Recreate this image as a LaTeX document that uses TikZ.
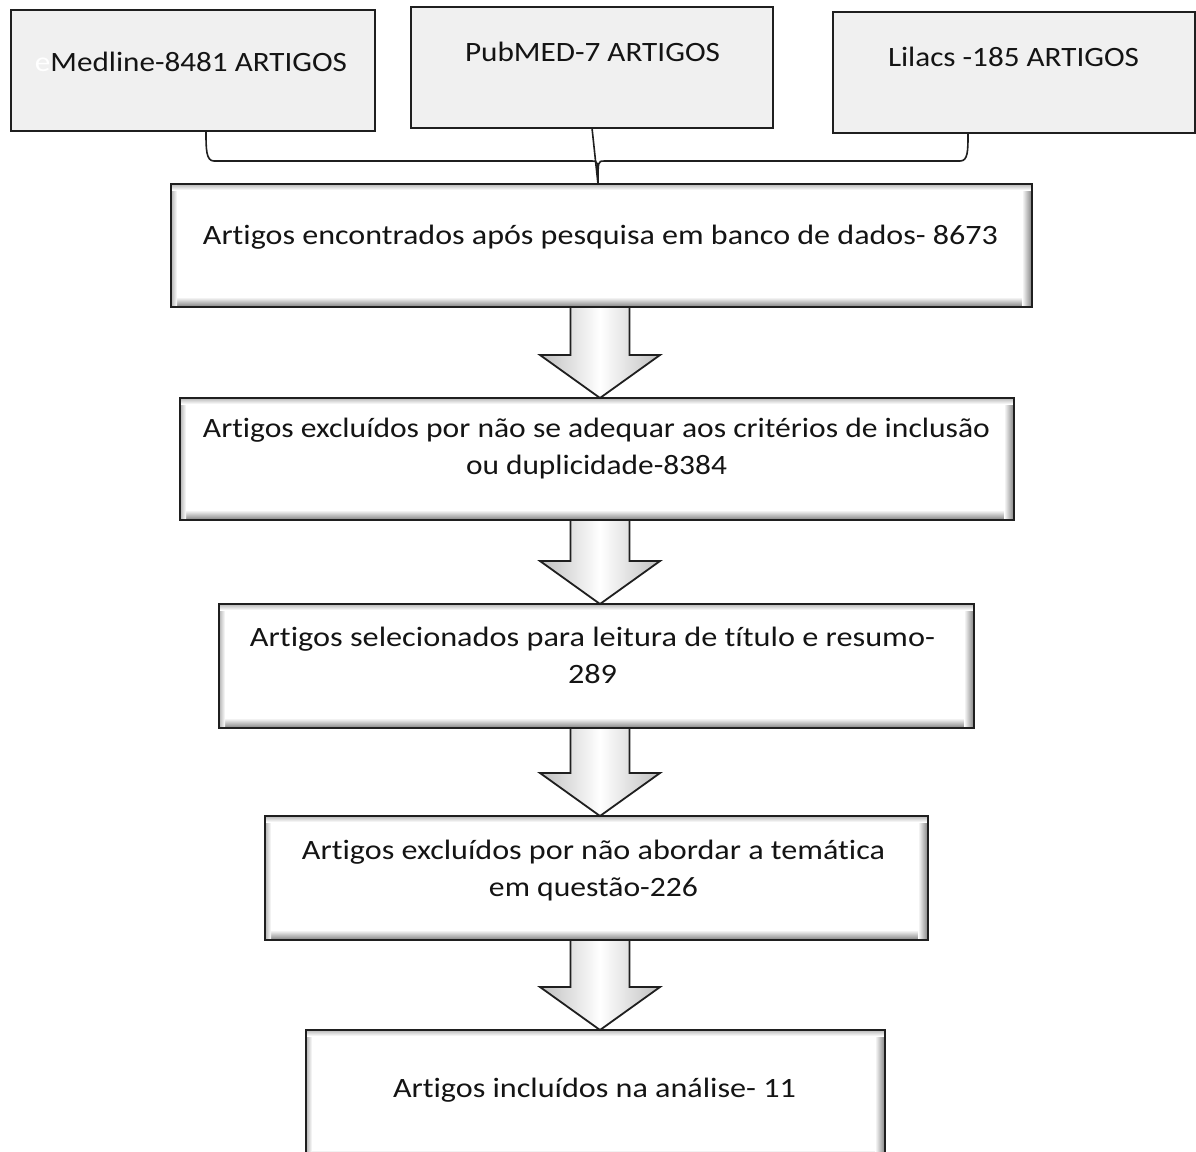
\documentclass[tikz,border=0pt]{standalone}
\usepackage{fontspec}
\setmainfont{Carlito}[Ligatures=NoCommon]
\usetikzlibrary{calc}
\newcommand\hfit[2]{\resizebox{#1pt}{\height}{#2}}
\newcommand\bevel[1]{%
  \shade[top color=white, bottom color=black!50] ([yshift=10pt]#1.south west) rectangle (#1.south east);
  \shade[left color=white, right color=black!50] ([xshift=-10pt]#1.north east) rectangle (#1.south east);
  \shade[left color=black!30, right color=white] (#1.north west) rectangle ([xshift=6pt]#1.south west);
  \shade[top color=black!28, bottom color=white] (#1.north west) rectangle ([yshift=-6pt]#1.north east);
  \draw[boxline] (#1.north west) rectangle (#1.south east);
}
\newcommand\blockarrow[2]{%
  \path[barrow] let \p1=(ax |- #1.south), \p2=(ax |- #2.north) in
    (\x1-29.5pt,\y1) -- (\x1+29.5pt,\y1) -- (\x1+29.5pt,\y2+43pt) -- (\x1+60pt,\y2+43pt)
    -- (\x2,\y2) -- (\x1-60pt,\y2+43pt) -- (\x1-29.5pt,\y2+43pt) -- cycle;
}
\begin{document}
\begin{tikzpicture}[x=1pt,y=-1pt,
  srcbox/.style={draw=black!88, line width=2pt, fill=black!6, rectangle, inner sep=0pt, outer sep=0pt},
  mainbox/.style={fill=white, rectangle, inner sep=0pt, outer sep=0pt},
  boxline/.style={draw=black!88, line width=2.2pt},
  txt/.style={inner sep=0pt, font=\fontsize{28}{37}\selectfont, text=black!92, align=center},
  conn/.style={draw=black!88, line width=1.6pt},
  barrow/.style={draw=black!88, line width=1.8pt, left color=black!25, right color=black!25, middle color=white}
]
\useasboundingbox (0,0) rectangle (1196,1151);
\clip (0,0) rectangle (1196,1151);
\fill[white] (0,0) rectangle (1196,1151);

% source boxes
\node[srcbox, minimum width=364pt, minimum height=121pt] (med) at (193,70.5) {};
\node[srcbox, minimum width=362pt, minimum height=121pt] (pub) at (592,67.5) {};
\node[srcbox, minimum width=362pt, minimum height=121pt] (lil) at (1014,72.5) {};

% main boxes
\node[mainbox, minimum width=861pt, minimum height=123pt] (b1) at (601.5,245.5) {};
\node[mainbox, minimum width=834pt, minimum height=122pt] (b2) at (597,459) {};
\node[mainbox, minimum width=755pt, minimum height=124pt] (b3) at (596.5,666) {};
\node[mainbox, minimum width=663pt, minimum height=124pt] (b4) at (596.5,878) {};
\node[mainbox, minimum width=579pt, minimum height=130pt] (b5) at (595.5,1095) {};
\bevel{b1}\bevel{b2}\bevel{b3}\bevel{b4}\bevel{b5}

% brace connector
\coordinate (tip) at ($(b1.north)+(-3.5,0)$);
\coordinate (L0) at ($(med.south)+(13,0)$);
\coordinate (R0) at ($(lil.south)+(-46,0)$);
\draw[conn] (L0) .. controls ($(L0)+(0,18)$) and ($(L0)+(0,30)$) .. ($(L0)+(8,30)$)
  -- ($(tip)+(-6,-23)$) .. controls ($(tip)+(0,-23)$) .. (tip);
\draw[conn] (R0) .. controls ($(R0)+(0,18)$) and ($(R0)+(0,28)$) .. ($(R0)+(-8,28)$)
  -- ($(tip)+(6,-23)$) .. controls ($(tip)+(0,-23)$) .. (tip);
\draw[conn] (pub.south) -- (tip);

% block arrows
\coordinate (ax) at (600,0);
\blockarrow{b1}{b2}
\blockarrow{b2}{b3}
\blockarrow{b3}{b4}
\blockarrow{b4}{b5}

% texts
\node[txt] (medt) at (191,62) {\hfit{312}{{\color{white}e}Medline-8481 ARTIGOS}};
\node[txt] (pubt) at (592.5,52) {\hfit{255}{PubMED-7 ARTIGOS}};
\node[txt] (lilt) at (1013.5,57) {\hfit{251}{Lilacs -185 ARTIGOS}};
\node[txt] (t1) at (600.5,237) {\hfit{795}{Artigos encontrados após pesquisa em banco de dados- 8673}};
\node[txt] (t2) at (596.5,448.5) {\hfit{787}{Artigos excluídos por não se adequar aos critérios de inclusão}\\\hfit{261}{ou duplicidade-8384}};
\node[txt] (t3) at (592.5,655.5) {\hfit{685}{Artigos selecionados para leitura de título e resumo-}\\\hfit{49}{289}};
\node[txt] (t4) at (593.5,871) {\hfit{583}{Artigos excluídos por não abordar a temática}\\\hfit{209}{em questão-226}};
\node[txt] (t5) at (594.5,1090) {\hfit{403}{Artigos incluídos na análise- 11}};
\end{tikzpicture}
\end{document}
